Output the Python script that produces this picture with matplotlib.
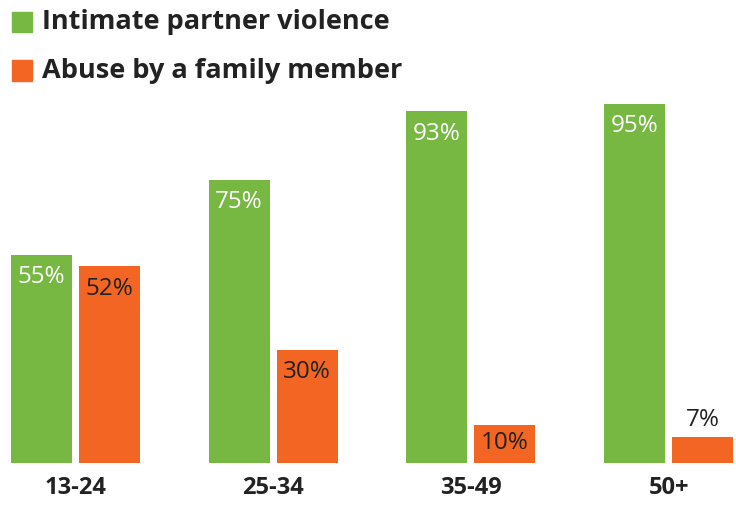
import numpy as np
import matplotlib
matplotlib.use('Agg')
import matplotlib.pyplot as plt
from matplotlib.patches import Rectangle

# data
age_groups = ['13-24', '25-34', '35-49', '50+']
partner = [55, 75, 93, 95]
family = [52, 30, 10, 7]
series_names = ['Intimate partner violence', 'Abuse by a family member']

green = '#77b843'
orange = '#f26522'
dark = '#222222'

plt.rcParams['font.family'] = ['Open Sans', 'DejaVu Sans']

W, H = 736, 505
fig = plt.figure(figsize=(W / 100, H / 100), dpi=100)

# axes placed in pixels: baseline at y=463, 100% at y=85
ax = fig.add_axes([0, 42 / H, 1, 378 / H])
ax.set_ylim(0, 100)
spacing = 197.7
ax.set_xlim(-75.5 / spacing, (W - 75.5) / spacing)
ax.axis('off')

x = np.arange(len(age_groups))
width = 61 / spacing
offset = width / 2 + 3.5 / spacing

ax.bar(x - offset, partner, width, color=green)
ax.bar(x + offset, family, width, color=orange)

# value labels
fs = 17.5
for xi, v in zip(x, partner):
    ax.text(xi - offset, v - 2.7, f'{v}%', ha='center', va='top',
            color='white', fontsize=fs)
for xi, v in zip(x, family):
    if v >= 15:
        ax.text(xi + offset, v - 2.7, f'{v}%', ha='center', va='top',
                color=dark, fontsize=fs)
    elif v >= 9:
        # short bar: centre the label inside it
        ax.text(xi + offset, v / 2 + 0.3, f'{v}%', ha='center', va='center',
                color=dark, fontsize=fs)
    else:
        ax.text(xi + offset, v + 1.2, f'{v}%', ha='center', va='bottom',
                color=dark, fontsize=fs)

# category labels under the groups
for xi, lab in zip(x, age_groups):
    ax.text(xi, -6.7, lab, ha='center', va='center', color=dark,
            fontsize=17, fontweight='bold')

# legend drawn by hand with square markers
for i, (name, col) in enumerate(zip(series_names, [green, orange])):
    cy = 1 - (22 + 48.5 * i) / H
    fig.patches.append(Rectangle((12 / W, cy - 10 / H), 20 / W, 20 / H,
                                 transform=fig.transFigure, color=col))
    fig.text(42 / W, cy, name, ha='left', va='center', color=dark,
             fontsize=19.5, fontweight='bold')

fig.savefig('out.png', dpi=100)
